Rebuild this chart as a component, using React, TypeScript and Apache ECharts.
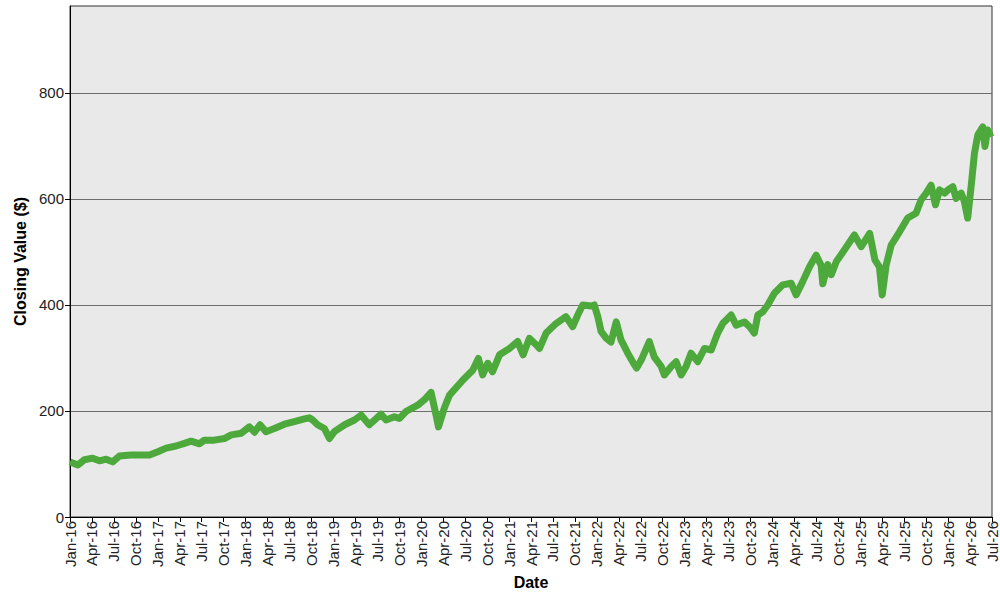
import React, { useEffect, useRef } from "react";
import * as echarts from "echarts";

const monthNames = ["Jan", "Feb", "Mar", "Apr", "May", "Jun", "Jul", "Aug", "Sep", "Oct", "Nov", "Dec"];

const dates = [
  "2016-01-01", "2016-02-03", "2016-02-29", "2016-04-04", "2016-05-02", "2016-05-30", "2016-06-26", "2016-07-24",
  "2016-09-11", "2016-10-23", "2016-11-27", "2017-01-01", "2017-02-05", "2017-03-16", "2017-04-20", "2017-05-18",
  "2017-06-22", "2017-07-12", "2017-08-23", "2017-10-04", "2017-11-02", "2017-12-13", "2018-01-17", "2018-02-07",
  "2018-02-28", "2018-03-25", "2018-04-29", "2018-06-10", "2018-07-21", "2018-09-02", "2018-09-23", "2018-10-06",
  "2018-10-27", "2018-11-24", "2018-12-15", "2019-01-05", "2019-02-16", "2019-03-28", "2019-04-25", "2019-05-29",
  "2019-07-17", "2019-08-07", "2019-09-11", "2019-10-02", "2019-10-29", "2019-12-17", "2020-01-14", "2020-02-11",
  "2020-03-02", "2020-03-12", "2020-04-06", "2020-04-27", "2020-06-21", "2020-08-02", "2020-08-26", "2020-09-13",
  "2020-10-04", "2020-10-24", "2020-11-22", "2021-01-03", "2021-02-06", "2021-02-27", "2021-03-25", "2021-04-22",
  "2021-05-06", "2021-06-03", "2021-07-14", "2021-08-25", "2021-09-22", "2021-10-13", "2021-11-03", "2021-12-08",
  "2021-12-21", "2022-01-05", "2022-01-19", "2022-02-09", "2022-02-27", "2022-03-21", "2022-04-10", "2022-05-08",
  "2022-06-05", "2022-06-14", "2022-07-03", "2022-08-06", "2022-08-27", "2022-09-25", "2022-10-08", "2022-11-06",
  "2022-11-26", "2022-12-17", "2023-01-07", "2023-01-28", "2023-02-23", "2023-03-23", "2023-04-20", "2023-05-17",
  "2023-06-07", "2023-07-12", "2023-08-02", "2023-09-06", "2023-09-27", "2023-10-17", "2023-11-01", "2023-11-21",
  "2023-12-12", "2024-01-09", "2024-02-13", "2024-03-18", "2024-04-08", "2024-05-05", "2024-06-03", "2024-06-30",
  "2024-07-21", "2024-07-28", "2024-08-18", "2024-09-02", "2024-09-23", "2024-10-27", "2024-12-07", "2025-01-05",
  "2025-02-09", "2025-03-01", "2025-03-20", "2025-04-01", "2025-04-17", "2025-05-08", "2025-06-12", "2025-07-16",
  "2025-08-20", "2025-09-10", "2025-10-01", "2025-10-22", "2025-11-09", "2025-11-26", "2025-12-17", "2025-12-31",
  "2026-01-21", "2026-02-04", "2026-02-23", "2026-03-08", "2026-03-22", "2026-04-06", "2026-04-19", "2026-05-03",
  "2026-05-24", "2026-06-02", "2026-06-13", "2026-06-27",
];

const closingValues = [
  104, 98, 108, 111, 106, 109, 104, 115,
  117, 117, 117, 123, 130, 134, 139, 143,
  138, 145, 145, 148, 155, 158, 170, 160,
  174, 161, 167, 175, 180, 185, 187, 183,
  174, 167, 148, 161, 174, 183, 192, 174,
  194, 183, 189, 186, 199, 211, 221, 235,
  192, 170, 206, 230, 258, 277, 299, 268,
  290, 274, 306, 318, 331, 306, 337, 325,
  318, 347, 365, 378, 359, 381, 400, 398,
  400, 378, 350, 337, 330, 368, 334, 309,
  287, 281, 296, 331, 302, 284, 268, 284,
  293, 268, 284, 309, 293, 318, 315, 347,
  365, 381, 362, 368, 359, 347, 381, 387,
  400, 422, 438, 441, 419, 444, 472, 494,
  475, 440, 476, 457, 482, 504, 532, 510,
  535, 485, 472, 419, 475, 513, 538, 564,
  573, 598, 611, 626, 589, 617, 611, 617,
  623, 601, 611, 595, 564, 626, 686, 721,
  736, 699, 730, 717,
];

const yTicks = [0, 200, 400, 600, 800];
const X_START_YEAR = 2016;
const X_MONTHS = 126;

function monthIndex(d: string): number {
  const [y, m, day] = d.split("-").map(Number);
  const dim = new Date(y, m, 0).getDate();
  return (y - X_START_YEAR) * 12 + (m - 1) + (day - 1) / dim;
}

export default function App() {
  const ref = useRef<HTMLDivElement>(null);
  useEffect(() => {
    if (!ref.current) return;
    const chart = echarts.init(ref.current, null, { renderer: "svg" });
    const data = dates.map((d, i) => [monthIndex(d), closingValues[i]]);
    chart.setOption({
      animation: false,
      backgroundColor: "#ffffff",
      grid: {
        left: 70,
        right: 8,
        top: 6,
        bottom: 83,
        show: true,
        backgroundColor: "#E9E9E9",
        borderColor: "#333333",
        borderWidth: 1,
      },
      xAxis: {
        type: "value",
        min: 0,
        max: X_MONTHS,
        interval: 3,
        name: "Date",
        nameLocation: "middle",
        nameGap: 57,
        nameTextStyle: { fontFamily: "Liberation Sans", fontSize: 16, fontWeight: "bold", color: "#000" },
        axisLine: { show: true, lineStyle: { color: "#000", width: 1 } },
        axisTick: { show: true, length: 5, lineStyle: { color: "#000" } },
        splitLine: { show: false },
        axisLabel: {
          rotate: 90,
          margin: 4,
          fontFamily: "Liberation Sans",
          fontSize: 15,
          color: "#222",
          formatter: (v: number) => {
            const i = Math.round(v);
            const yy = String((X_START_YEAR + Math.floor(i / 12)) % 100).padStart(2, "0");
            return `${monthNames[i % 12]}-${yy}`;
          },
        },
      },
      yAxis: {
        type: "value",
        min: 0,
        max: 964,
        interval: 200,
        name: "Closing Value ($)",
        nameLocation: "middle",
        nameRotate: 90,
        nameGap: 40,
        nameTextStyle: { fontFamily: "Liberation Sans", fontSize: 16, fontWeight: "bold", color: "#000" },
        axisLine: { show: true, lineStyle: { color: "#000", width: 1 } },
        axisTick: { show: true, length: 5, lineStyle: { color: "#000" }, customValues: yTicks },
        splitLine: { show: true, lineStyle: { color: "#6E6E6E", width: 1 } },
        axisLabel: {
          margin: 6,
          fontFamily: "Liberation Sans",
          fontSize: 15,
          color: "#222",
          customValues: yTicks,
          formatter: (v: number) => (yTicks.includes(v) ? String(v) : ""),
        },
      },
      series: [
        {
          type: "line",
          data,
          showSymbol: false,
          symbol: "none",
          lineStyle: { color: "#4EA93D", width: 7, join: "round" },
          itemStyle: { color: "#4EA93D" },
        },
      ],
    });
    return () => chart.dispose();
  }, []);
  return <div ref={ref} style={{ position: "fixed", left: 0, top: 0, width: 1000, height: 600 }} />;
}
